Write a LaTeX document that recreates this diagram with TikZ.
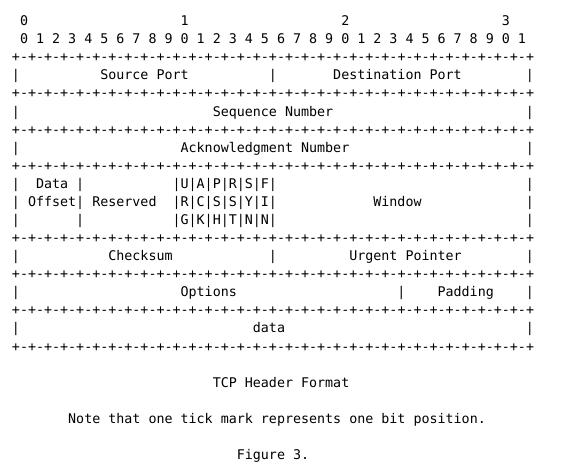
\documentclass[tikz,border=0pt]{standalone}
\usepackage{fontspec}
\setmonofont{DejaVu Sans Mono}
\usepackage{tikz}
\usetikzlibrary{positioning}
\newcommand{\hdrfont}{\ttfamily\fontsize{13.34pt}{18pt}\selectfont}
\newcommand{\ruleline}{+-+-+-+-+-+-+-+-+-+-+-+-+-+-+-+-+-+-+-+-+-+-+-+-+-+-+-+-+-+-+-+-+}

\begin{document}
\begin{tikzpicture}[x=8.03pt,y=-18.08pt,
txt/.style={anchor=base west,inner sep=0pt,outer sep=0pt,font=\hdrfont}]
\useasboundingbox (-1.494,-1.416) rectangle (70.73,24.58);

% bit numbers
\foreach \d in {0,...,3}
  \node[txt] (tens\d) at (1+20*\d,0) {\d};
\foreach \b in {0,...,31}{
  \pgfmathtruncatemacro{\u}{mod(\b,10)}
  \node[txt] (bit\b) at (1+2*\b,1) {\u};
}

% tick rows
\foreach \r in {2,4,6,8,12,14,16,18}
  \node[txt] (rule\r) at (0,\r) {\ruleline};

% field borders
\foreach \r/\c in {3/0,3/32,3/64,5/0,5/64,7/0,7/64,9/0,9/8,9/64,10/0,10/8,10/64,
  11/0,11/8,11/64,13/0,13/32,13/64,15/0,15/48,15/64,17/0,17/64}
  \node[txt] (bar\r-\c) at (\c,\r) {|};

% fields
\node[txt] (srcport) at (11,3) {Source Port};
\node[txt] (dstport) at (40,3) {Destination Port};
\node[txt] (seqnum) at (25,5) {Sequence Number};
\node[txt] (acknum) at (21,7) {Acknowledgment Number};
\node[txt] (dataoff) at (3,9) {Data};
\node[txt] (offset) at (2,10) {Offset};
\node[txt] (reserved) at (10,10) {Reserved};
\node[txt] (flagsA) at (20,9) {|U|A|P|R|S|F|};
\node[txt] (flagsB) at (20,10) {|R|C|S|S|Y|I|};
\node[txt] (flagsC) at (20,11) {|G|K|H|T|N|N|};
\node[txt] (window) at (45,10) {Window};
\node[txt] (checksum) at (12,13) {Checksum};
\node[txt] (urgptr) at (42,13) {Urgent Pointer};
\node[txt] (options) at (21,15) {Options};
\node[txt] (padding) at (53,15) {Padding};
\node[txt] (payload) at (30,17) {data};

% captions
\node[txt] (title) at (25,20) {TCP Header Format};
\node[txt] (note) at (7,22) {Note that one tick mark represents one bit position.};
\node[txt] (figno) at (28,24) {Figure 3.};

\end{tikzpicture}
\end{document}
